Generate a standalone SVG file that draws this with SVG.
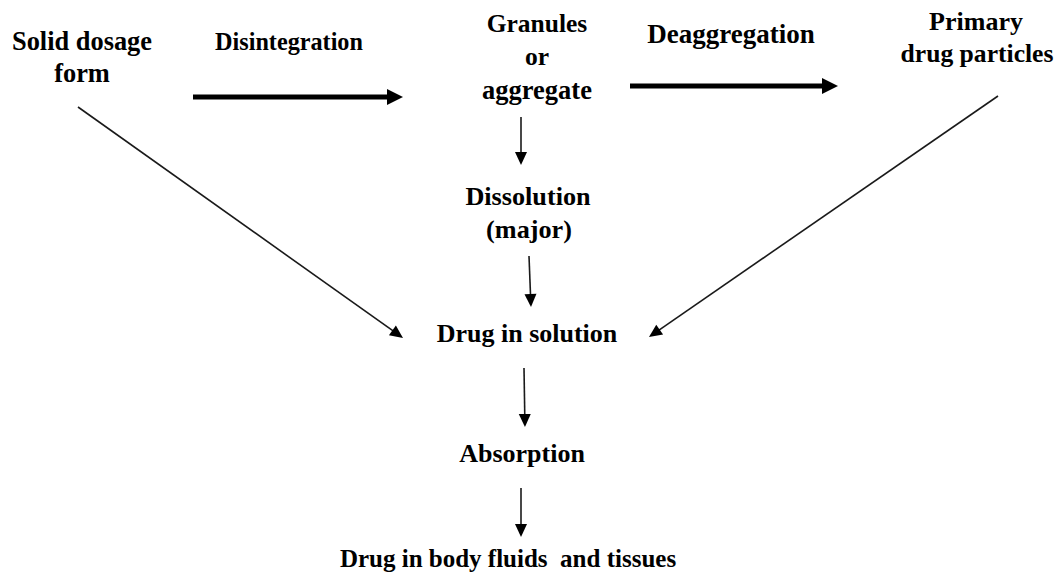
<svg xmlns="http://www.w3.org/2000/svg" width="1064" height="581" viewBox="0 0 1064 581">
  <style>
    .t { font-family: "Liberation Serif", "Times New Roman", serif; font-weight: bold; fill: #000; text-anchor: middle; }
    .thin { stroke: #1a1a1a; stroke-width: 1.6; fill: none; marker-end: url(#ah); }
    .thick { stroke: #000; stroke-width: 5; fill: none; marker-end: url(#ahT); }
  </style>
  <defs>
    <marker id="ah" markerUnits="userSpaceOnUse" markerWidth="13" markerHeight="12" refX="3" refY="6" orient="auto" overflow="visible">
      <path d="M0,0 L13,6 L0,12 z" fill="#000"/>
    </marker>
    <marker id="ahT" markerUnits="userSpaceOnUse" markerWidth="16" markerHeight="16" refX="3" refY="8" orient="auto" overflow="visible">
      <path d="M0,0 L16,8 L0,16 z" fill="#000"/>
    </marker>
  </defs>
  <rect width="1064" height="581" fill="#fff"/>

  <g id="connectors">
    <line class="thick" x1="193" y1="97" x2="390" y2="97"/>
    <line class="thick" x1="630" y1="86" x2="825" y2="86"/>
    <line class="thin" x1="521" y1="117" x2="521" y2="155"/>
    <line class="thin" x1="529" y1="256" x2="530.6" y2="297"/>
    <line class="thin" x1="524" y1="368" x2="524.8" y2="417"/>
    <line class="thin" x1="521" y1="488" x2="521" y2="527"/>
    <line class="thin" x1="78" y1="107" x2="394.85" y2="332.2"/>
    <line class="thin" x1="998" y1="96" x2="657.2" y2="331.3"/>
  </g>

  <g id="solid-dosage-form">
    <text class="t" x="82" y="50" font-size="26.4">Solid dosage</text>
    <text class="t" x="82" y="82" font-size="26.4">form</text>
  </g>
  <g id="label-disintegration">
    <text class="t" x="289" y="50" font-size="24.2">Disintegration</text>
  </g>
  <g id="granules">
    <text class="t" x="537" y="32" font-size="25.5">Granules</text>
    <text class="t" x="537" y="65" font-size="25.5">or</text>
    <text class="t" x="537" y="99" font-size="26.5">aggregate</text>
  </g>
  <g id="label-deaggregation">
    <text class="t" x="731" y="43" font-size="27">Deaggregation</text>
  </g>
  <g id="primary-particles">
    <text class="t" x="976" y="30" font-size="26">Primary</text>
    <text class="t" x="977" y="62" font-size="25.6">drug particles</text>
  </g>
  <g id="dissolution">
    <text class="t" x="528" y="205" font-size="26.2">Dissolution</text>
    <text class="t" x="529" y="238" font-size="26.2">(major)</text>
  </g>
  <g id="drug-in-solution">
    <text class="t" x="527" y="342" font-size="26">Drug in solution</text>
  </g>
  <g id="absorption">
    <text class="t" x="522" y="462" font-size="26">Absorption</text>
  </g>
  <g id="drug-in-body">
    <text class="t" x="508" y="567" font-size="25">Drug in body fluids&#160; and tissues</text>
  </g>
</svg>
